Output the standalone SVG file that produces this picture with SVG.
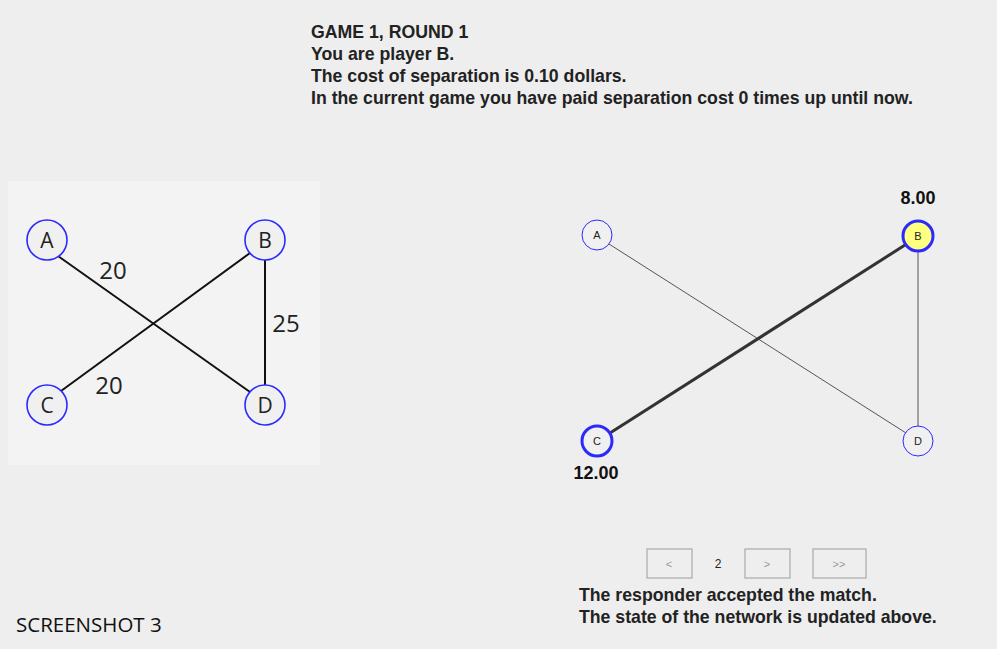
<svg xmlns="http://www.w3.org/2000/svg" width="997" height="649" viewBox="0 0 997 649">
<style>
.hdr{font-family:"Liberation Sans",Arial,sans-serif;font-weight:bold;font-size:17.7px;fill:#222}
.lnode{fill:#f0f0f0;stroke:#2a2aff;stroke-width:1.6}
.ltxt{font-family:"Open Sans","Liberation Sans",sans-serif;font-size:21px;fill:#222;text-anchor:middle}
.lw{font-family:"Open Sans","Liberation Sans",sans-serif;font-size:24px;fill:#222;text-anchor:middle}
.ledge{stroke:#111;stroke-width:2;fill:none}
.rnode{fill:#f0f0f0;stroke:#2a2aff;stroke-width:1}
.rtxt{font-family:"Liberation Sans",Arial,sans-serif;font-size:11px;fill:#222;text-anchor:middle}
.val{font-family:"Liberation Sans",Arial,sans-serif;font-weight:bold;font-size:18px;fill:#111;text-anchor:middle}
.btn{fill:#eeeeee;stroke:#aaaaaa;stroke-width:1.2}
.btxt{font-family:"Liberation Sans",Arial,sans-serif;font-size:11px;fill:#999;text-anchor:middle}
</style>
<rect width="997" height="649" fill="#eeeeee"/>
<rect x="8" y="181" width="312" height="284" fill="#f3f3f3"/>
<g id="header">
<text class="hdr" x="311" y="38">GAME 1, ROUND 1</text>
<text class="hdr" x="311" y="60">You are player B.</text>
<text class="hdr" x="311" y="82">The cost of separation is 0.10 dollars.</text>
<text class="hdr" x="311" y="104">In the current game you have paid separation cost 0 times up until now.</text>
</g>
<g id="connectors">
<line class="ledge" x1="58" y1="256" x2="250" y2="392"/>
<line class="ledge" x1="250" y1="253" x2="61" y2="391"/>
<line class="ledge" x1="265" y1="260" x2="265" y2="385"/>
<text class="lw" x="113" y="279">20</text>
<text class="lw" x="286" y="332">25</text>
<text class="lw" x="109" y="394">20</text>
<line x1="609" y1="244" x2="906" y2="433" stroke="#555" stroke-width="1"/>
<line x1="918" y1="252" x2="918" y2="426" stroke="#555" stroke-width="1"/>
<line x1="610" y1="433" x2="905" y2="245" stroke="#333" stroke-width="3"/>
</g>
<g id="node-A-left"><circle class="lnode" cx="47" cy="240" r="20"/><text class="ltxt" x="47" y="248">A</text></g>
<g id="node-B-left"><circle class="lnode" cx="265" cy="240" r="20"/><text class="ltxt" x="265" y="248">B</text></g>
<g id="node-C-left"><circle class="lnode" cx="47" cy="405" r="20"/><text class="ltxt" x="47" y="413">C</text></g>
<g id="node-D-left"><circle class="lnode" cx="265" cy="405" r="20"/><text class="ltxt" x="265" y="413">D</text></g>
<g id="node-A-right"><circle class="rnode" cx="597" cy="235" r="15"/><text class="rtxt" x="597" y="239">A</text></g>
<g id="node-B-right"><circle class="rnode" cx="918" cy="236" r="15" style="fill:#ffff80;stroke-width:3"/><text class="rtxt" x="918" y="240">B</text></g>
<g id="node-C-right"><circle class="rnode" cx="597" cy="441" r="15" style="stroke-width:3"/><text class="rtxt" x="597" y="445">C</text></g>
<g id="node-D-right"><circle class="rnode" cx="918" cy="441" r="15"/><text class="rtxt" x="918" y="445">D</text></g>
<text class="val" x="918" y="204">8.00</text>
<text class="val" x="596" y="479">12.00</text>
<g id="controls">
<rect class="btn" x="647" y="549" width="45" height="29"/><text class="btxt" x="669" y="568">&lt;</text>
<text class="rtxt" x="718" y="568" style="font-size:12px">2</text>
<rect class="btn" x="745" y="549" width="45" height="29"/><text class="btxt" x="767" y="568">&gt;</text>
<rect class="btn" x="813" y="549" width="53" height="29"/><text class="btxt" x="839" y="568">&gt;&gt;</text>
</g>
<text class="hdr" x="579" y="601">The responder accepted the match.</text>
<text class="hdr" x="579" y="623">The state of the network is updated above.</text>
<text x="16" y="632" style="font-family:'Open Sans','Liberation Sans',sans-serif;font-size:20.5px;fill:#111">SCREENSHOT 3</text>
</svg>
